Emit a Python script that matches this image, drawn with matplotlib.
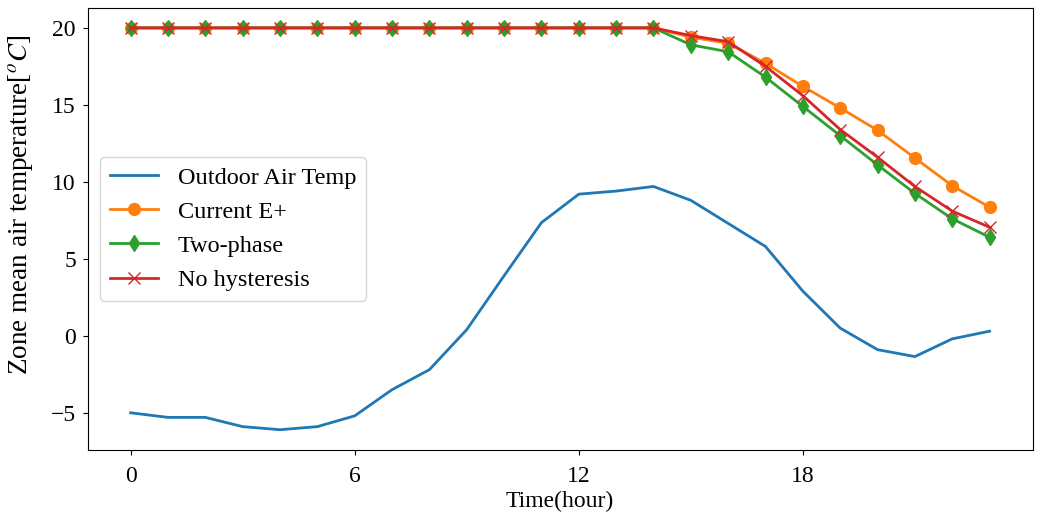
import numpy as np
import matplotlib.pyplot as plt

plt.rcParams['font.family'] = ['Liberation Serif', 'DejaVu Serif']
plt.rcParams['mathtext.fontset'] = 'stix'

# Hourly data
hours = np.arange(24)
outdoor = [-5.0, -5.3, -5.3, -5.9, -6.1, -5.9, -5.2, -3.5, -2.2, 0.4, 3.9, 7.35,
           9.2, 9.4, 9.7, 8.8, 7.3, 5.8, 2.9, 0.5, -0.9, -1.35, -0.2, 0.3]
current_ep = [20.0] * 15 + [19.4, 19.0, 17.7, 16.2, 14.8, 13.35, 11.55, 9.75, 8.35]
two_phase = [20.0] * 15 + [18.9, 18.45, 16.8, 14.9, 13.0, 11.1, 9.25, 7.6, 6.4]
no_hyst = [20.0] * 15 + [19.5, 19.1, 17.5, 15.6, 13.4, 11.6, 9.7, 8.1, 7.05]

fig, ax = plt.subplots(figsize=(10.44, 5.2), dpi=100)
ax.plot(hours, outdoor, color='#1f77b4', lw=2, label='Outdoor Air Temp')
ax.plot(hours, current_ep, color='#ff7f0e', lw=2, marker='o', ms=8.5, label='Current E+')
ax.plot(hours, two_phase, color='#2ca02c', lw=2, marker='d', ms=8.5, label='Two-phase')
ax.plot(hours, no_hyst, color='#d62728', lw=2, marker='x', ms=8.5, label='No hysteresis')

ax.set_xticks([0, 6, 12, 18])
ax.set_yticks([-5, 0, 5, 10, 15, 20])
ax.tick_params(labelsize=17, pad=5)
ax.tick_params(axis='x', pad=8)
ax.set_xlabel('Time(hour)', fontsize=17, labelpad=3)
ax.set_ylabel('Zone mean air temperature[$^oC$]', fontsize=19.5)
ax.yaxis.set_label_coords(-0.056, 0.555)
ax.legend(loc='center left', fontsize=17.5)

plt.subplots_adjust(left=0.084, right=0.989, top=0.985, bottom=0.135)
plt.savefig('out.png')
